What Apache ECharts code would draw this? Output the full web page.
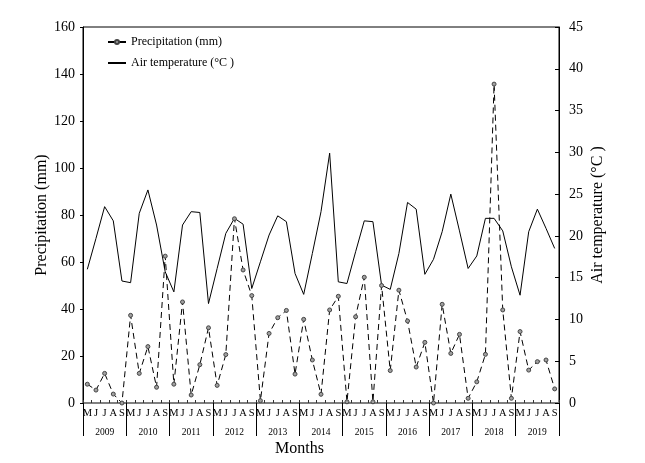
<!DOCTYPE html>
<html><head><meta charset="utf-8">
<script src="https://cdn.jsdelivr.net/npm/echarts@6/dist/echarts.min.js"></script>
<style>html,body{margin:0;padding:0;background:#fff}#c{width:645px;height:463px}</style>
</head><body><div id="c"></div>
<script>
var years = ['2009','2010','2011','2012','2013','2014','2015','2016','2017','2018','2019'];
var monthLetters = ['M','J','J','A','S'];
var precipitation = [8,5.5,12.6,3.8,0, 37.3,12.6,24,6.7,62.5, 8,43,3.4,16.3,32, 7.5,20.6,78.4,56.6,45.7,
  1,29.6,36.3,39.4,12.3, 35.6,18.3,3.7,39.6,45.4, 0.5,36.7,53.5,0.5,50, 13.8,48,34.9,15.3,25.8,
  0,42,21.1,29.2,2, 9,20.7,135.7,39.6,2, 30.4,14,17.6,18.3,6];
var temperature = [16,19.7,23.5,21.8,14.6, 14.4,22.7,25.5,21.3,15.7, 13.3,21.3,22.9,22.8,11.9,
  16.1,20.3,22.1,21.4,13.7, 16.9,20.1,22.4,21.7,15.5, 13,17.9,22.9,29.9,14.5, 14.3,18.1,21.8,21.7,14.1,
  13.6,17.9,24,23.2,15.4, 17.2,20.5,25,20.6,16.1, 17.6,22.1,22.1,20.6,16.3, 12.9,20.5,23.2,20.9,18.5];
var leftTicks = {min:0, max:160, interval:20};
var rightTicks = {min:0, max:45, interval:5};

var categories = [];
years.forEach(function(y){ monthLetters.forEach(function(m,i){ categories.push(y+'-'+i+'-'+m); }); });

var font = 'Liberation Serif';
var chart = echarts.init(document.getElementById('c'));
chart.setOption({
  animation:false,
  textStyle:{fontFamily:font, color:'#000'},
  grid:{left:83, right:86, top:27, bottom:60, show:true, borderColor:'#000', borderWidth:1},
  legend:{
    left:102, top:31, orient:'vertical', itemWidth:18, itemHeight:5, itemGap:9,
    textStyle:{fontFamily:font, fontSize:12, color:'#000'},
    data:[{name:'Precipitation (mm)', lineStyle:{type:'solid', color:'#000'}},
          {name:'Air temperature (°C )', itemStyle:{opacity:0}}]
  },
  xAxis:[{
    type:'category', data:categories, boundaryGap:true,
    axisLine:{show:true, lineStyle:{color:'#808080', width:2}},
    axisTick:{show:true, inside:true, length:3, interval:0, lineStyle:{color:'#333'}},
    axisLabel:{interval:0, margin:5, fontFamily:font, fontSize:10.5, color:'#000',
      formatter:function(v){ return v.split('-')[2]; }},
    splitLine:{show:false}
  },{
    type:'category', data:years, position:'bottom', boundaryGap:true,
    axisLine:{show:false},
    axisTick:{show:true, inside:false, length:33, interval:0, lineStyle:{color:'#000', width:1}},
    axisLabel:{interval:0, margin:24, fontFamily:font, fontSize:9.5, color:'#000'},
    splitLine:{show:false}
  }],
  yAxis:[{
    type:'value', min:leftTicks.min, max:leftTicks.max, interval:leftTicks.interval,
    name:'Precipitation (mm)', nameLocation:'middle', nameGap:33, nameMoveOverlap:false,
    nameTextStyle:{fontFamily:font, fontSize:16, color:'#000'},
    axisLine:{show:true, lineStyle:{color:'#000', width:1}},
    axisTick:{show:true, inside:false, length:3, lineStyle:{color:'#000'}},
    axisLabel:{margin:8, fontFamily:font, fontSize:14, color:'#000'},
    splitLine:{show:false}
  },{
    type:'value', min:rightTicks.min, max:rightTicks.max, interval:rightTicks.interval, position:'right',
    name:'Air temperature (°C )', nameLocation:'middle', nameGap:31, nameRotate:90, nameMoveOverlap:false,
    nameTextStyle:{fontFamily:font, fontSize:16, color:'#000'},
    axisLine:{show:true, lineStyle:{color:'#000', width:1}},
    axisTick:{show:true, inside:true, length:4, lineStyle:{color:'#000'}},
    axisLabel:{margin:10, fontFamily:font, fontSize:14, color:'#000'},
    splitLine:{show:false}
  }],
  graphic:[{type:'text', left:275, top:441, style:{text:'Months', font:'16px "Liberation Serif"', fill:'#000'}}],
  series:[{
    name:'Air temperature (°C )', type:'line', xAxisIndex:0, yAxisIndex:1, data:temperature,
    symbol:'none', lineStyle:{color:'#000', width:1}, itemStyle:{color:'#000'}, z:2
  },{
    name:'Precipitation (mm)', type:'line', xAxisIndex:0, yAxisIndex:0, data:precipitation,
    symbol:'circle', symbolSize:4, showAllSymbol:true,
    lineStyle:{color:'#000', width:1, type:[6,4]},
    itemStyle:{color:'#a0a0a0', borderColor:'#444', borderWidth:1}, z:3
  }]
});
</script></body></html>
